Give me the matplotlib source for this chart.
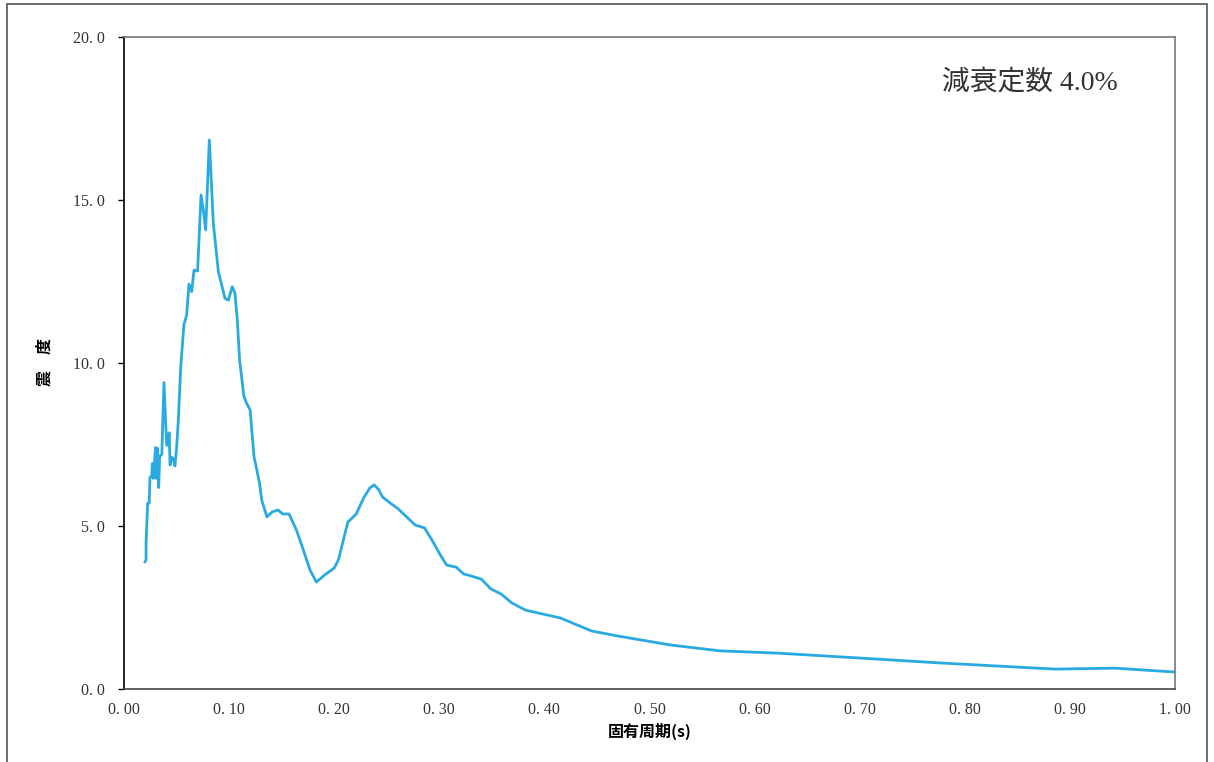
import matplotlib
matplotlib.use("Agg")
import matplotlib.pyplot as plt
from matplotlib.patches import Rectangle

# 固有周期 (s) と応答値
period = [0.020, 0.021, 0.021, 0.0225, 0.024, 0.0247, 0.0263, 0.027, 0.028, 0.030,
          0.031, 0.032, 0.033, 0.034, 0.036, 0.038, 0.0406, 0.0415, 0.043, 0.0438,
          0.0454, 0.047, 0.0485, 0.050, 0.0517, 0.054, 0.057, 0.0596, 0.0618, 0.0644,
          0.0666, 0.070, 0.0733, 0.0755, 0.0777, 0.0812, 0.085, 0.0898, 0.0961, 0.0993,
          0.103, 0.1056, 0.1078, 0.110, 0.114, 0.1167, 0.120, 0.1237, 0.129, 0.131,
          0.136, 0.141, 0.1465, 0.151, 0.157, 0.164, 0.169, 0.177, 0.183, 0.191,
          0.200, 0.204, 0.213, 0.221, 0.228, 0.234, 0.238, 0.242, 0.246, 0.253,
          0.260, 0.267, 0.277, 0.286, 0.293, 0.301, 0.307, 0.316, 0.323, 0.330,
          0.340, 0.349, 0.359, 0.369, 0.382, 0.415, 0.445, 0.469, 0.520, 0.567,
          0.622, 0.700, 0.776, 0.886, 0.943, 1.000]
value = [3.90, 3.96, 4.47, 5.70, 5.70, 6.49, 6.51, 6.92, 6.46, 7.41,
         6.46, 7.38, 6.18, 7.13, 7.20, 9.40, 7.48, 7.48, 7.86, 6.87,
         7.11, 7.05, 6.84, 7.38, 8.25, 9.89, 11.17, 11.47, 12.42, 12.19,
         12.85, 12.82, 15.15, 14.69, 14.08, 16.84, 14.28, 12.80, 11.98, 11.93,
         12.34, 12.14, 11.32, 10.09, 8.99, 8.76, 8.56, 7.13, 6.31, 5.80,
         5.28, 5.43, 5.49, 5.37, 5.37, 4.88, 4.42, 3.65, 3.28, 3.50,
         3.71, 3.96, 5.12, 5.37, 5.86, 6.17, 6.26, 6.13, 5.89, 5.71,
         5.55, 5.34, 5.03, 4.94, 4.57, 4.11, 3.80, 3.74, 3.53, 3.47,
         3.37, 3.07, 2.91, 2.64, 2.42, 2.18, 1.78, 1.63, 1.35, 1.17,
         1.10, 0.95, 0.80, 0.61, 0.64, 0.52]

xticks = [0.0, 0.1, 0.2, 0.3, 0.4, 0.5, 0.6, 0.7, 0.8, 0.9, 1.0]
xticklabels = ["0. 00", "0. 10", "0. 20", "0. 30", "0. 40", "0. 50",
               "0. 60", "0. 70", "0. 80", "0. 90", "1. 00"]
yticks = [0, 5, 10, 15, 20]
yticklabels = ["0. 0", "5. 0", "10. 0", "15. 0", "20. 0"]

serif = ['Liberation Serif', 'Noto Sans CJK JP']
cjk = ['Noto Sans CJK JP', 'DejaVu Sans']

fig = plt.figure(figsize=(12.14, 7.62), dpi=100)
ax = fig.add_axes([124/1214, 1-689/762, (1175-124)/1214, (689-37)/762])

# 外枠
fig.patches.append(Rectangle((7/1214, -0.1), 1200/1214, 1.1 - 4/762, transform=fig.transFigure,
                             fill=False, edgecolor='#555555', linewidth=1.2))

ax.plot(period, value, color='#29abe2', linewidth=2.0)

ax.set_xlim(0, 1.0)
ax.set_ylim(0, 20)
ax.set_xticks(xticks)
ax.set_xticklabels(xticklabels, family=serif, fontsize=11.5, color='#333333')
ax.set_yticks(yticks)
ax.set_yticklabels(yticklabels, family=serif, fontsize=11.5, color='#333333')
ax.tick_params(axis='x', length=0, pad=9)
ax.tick_params(axis='y', length=4, width=1, direction='out', pad=10)

ax.spines['left'].set_color('black')
ax.spines['bottom'].set_color('#444444')
ax.spines['top'].set_color('#777777')
ax.spines['right'].set_color('#777777')
for s in ax.spines.values():
    s.set_linewidth(1.2)

ax.set_xlabel("固有周期(s)", family=cjk, fontsize=11.5, fontweight='bold', labelpad=4)
fig.text(45/1214, 1-362/762, "震　度", family=cjk, fontsize=11.5, fontweight='bold',
         rotation=90, ha='center', va='center')

ax.text(0.946, 0.929, "減衰定数 4.0%", transform=ax.transAxes, family=serif,
        fontsize=20, color='#333333', ha='right', va='center')

fig.savefig("out.png", dpi=100)
